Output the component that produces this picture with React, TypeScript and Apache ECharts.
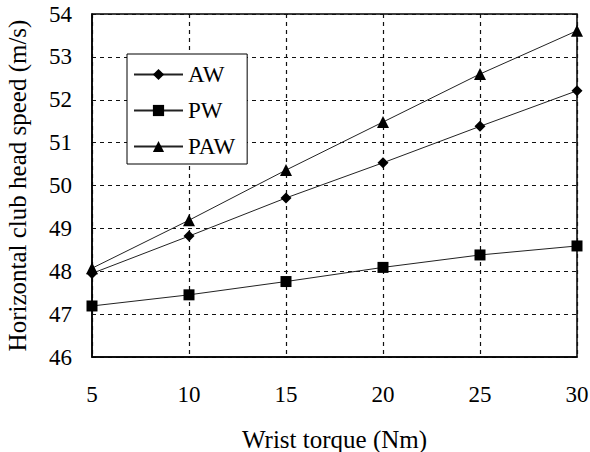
import React, { useEffect, useRef } from "react";
import * as echarts from "echarts";

const torque = [5, 10, 15, 20, 25, 30];
const aw = [47.95, 48.82, 49.71, 50.53, 51.38, 52.21];
const pw = [47.19, 47.45, 47.76, 48.09, 48.38, 48.59];
const paw = [48.07, 49.19, 50.36, 51.48, 52.6, 53.61];

const FONT = "Liberation Serif";
const FS = 23;
const FT = 25;

export default function App() {
  const ref = useRef<HTMLDivElement>(null);
  useEffect(() => {
    const chart = echarts.init(ref.current!, undefined, { renderer: "svg" });
    const mk = (name: string, data: number[], symbol: string, size: number) => ({
      name,
      type: "line",
      data: torque.map((t, i) => [t, data[i]]),
      symbol,
      symbolSize: size,
      lineStyle: { color: "#222", width: 1 },
      itemStyle: { color: "#000" },
      emphasis: { disabled: true },
    });
    chart.setOption({
      animation: false,
      textStyle: { fontFamily: FONT },
      grid: {
        left: 92,
        top: 14,
        right: 13,
        bottom: 95,
        outerBoundsMode: "none",
        containLabel: false,
        show: true,
        borderColor: "#000",
        borderWidth: 1.5,
      },
      legend: {
        orient: "vertical",
        left: 127,
        top: 54,
        padding: [9, 12, 6, 6],
        itemGap: 13,
        itemWidth: 49,
        itemHeight: 14,
        backgroundColor: "#fff",
        borderColor: "#000",
        borderWidth: 1,
        textStyle: { fontFamily: FONT, fontSize: FS, color: "#000" },
        data: ["AW", "PW", "PAW"],
      },
      xAxis: {
        type: "value",
        min: 5,
        max: 30,
        interval: 5,
        name: "Wrist torque (Nm)",
        nameLocation: "middle",
        nameGap: 70,
        nameTextStyle: { fontFamily: FONT, fontSize: FT, color: "#000" },
        axisLine: { show: true, lineStyle: { color: "#000", width: 1.5 } },
        axisTick: { show: false },
        axisLabel: { margin: 26, fontFamily: FONT, fontSize: FS, color: "#000" },
        splitLine: { show: true, lineStyle: { color: "#111", type: [4, 4], width: 1.2 } },
      },
      yAxis: {
        type: "value",
        min: 46,
        max: 54,
        interval: 1,
        name: "Horizontal club head speed (m/s)",
        nameLocation: "middle",
        nameGap: 62,
        nameRotate: 90,
        nameTextStyle: { fontFamily: FONT, fontSize: FT, color: "#000" },
        axisLine: { show: true, lineStyle: { color: "#000", width: 1.5 } },
        axisTick: { show: false },
        axisLabel: { margin: 20, fontFamily: FONT, fontSize: FS, color: "#000" },
        splitLine: { show: true, lineStyle: { color: "#111", type: [4, 4], width: 1.2 } },
      },
      series: [
        mk("AW", aw, "diamond", 11),
        mk("PW", pw, "rect", 11),
        mk("PAW", paw, "triangle", 12),
      ],
    });
    return () => chart.dispose();
  }, []);
  return <div ref={ref} style={{ width: 590, height: 452, position: "absolute", left: 0, top: 0, background: "#fff" }} />;
}
